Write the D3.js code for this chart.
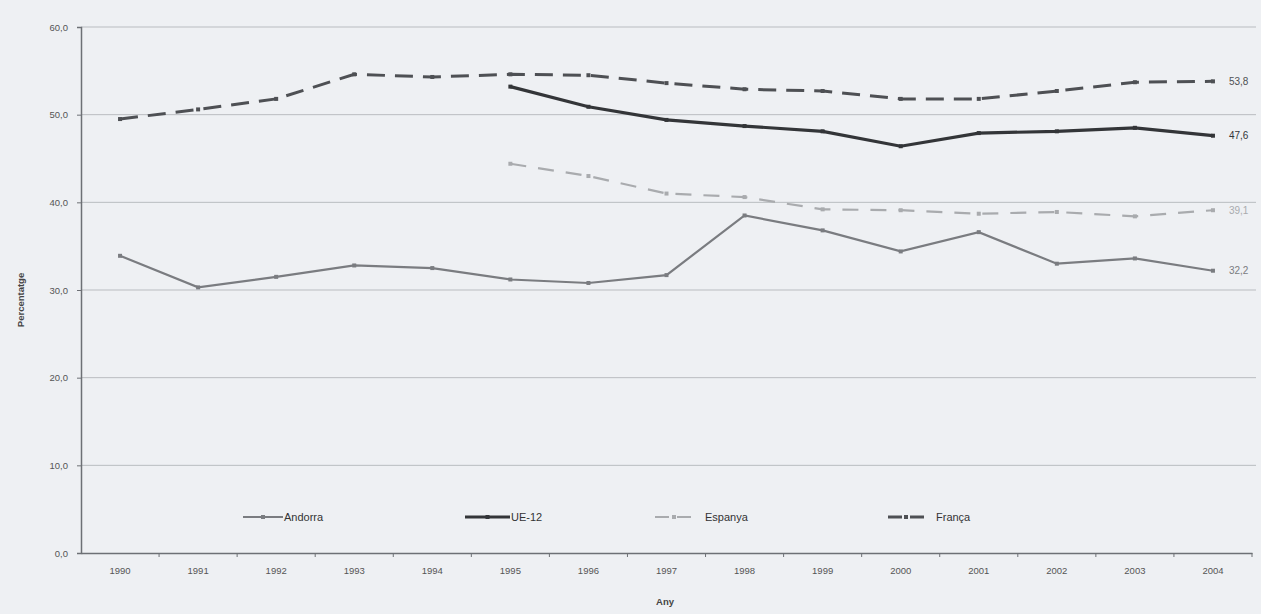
<!DOCTYPE html>
<html><head><meta charset="utf-8">
<script src="https://cdn.jsdelivr.net/npm/d3@7"></script>
<style>body{margin:0;background:#eef0f3;}svg{display:block;font-family:"Liberation Sans",Arial,sans-serif;}</style>
</head><body><svg id="c" width="1261" height="614"></svg>
<script>
const years = ["1990","1991","1992","1993","1994","1995","1996","1997","1998","1999","2000","2001","2002","2003","2004"];
const yTicks = [0,10,20,30,40,50,60];
const andorra = [33.9,30.3,31.5,32.8,32.5,31.2,30.8,31.7,38.5,36.8,34.4,36.6,33.0,33.6,32.2];
const ue12 = [null,null,null,null,null,53.2,50.9,49.4,48.7,48.1,46.4,47.9,48.1,48.5,47.6];
const espanya = [null,null,null,null,null,44.4,43.0,41.0,40.6,39.2,39.1,38.7,38.9,38.4,39.1];
const franca = [49.5,50.6,51.8,54.6,54.3,54.6,54.5,53.6,52.9,52.7,51.8,51.8,52.7,53.7,53.8];
const seriesNames = ["Andorra","UE-12","Espanya","França"];
const endLabels = ["32,2","47,6","39,1","53,8"];

const svg = d3.select("#c");
const x = d3.scaleBand().domain(years).range([81,1252]);
const y = d3.scaleLinear().domain([0,60]).range([553,27]);
const fmt = v => d3.format(".1f")(v).replace(".",",");

svg.append("g").selectAll("line").data(yTicks.filter(t=>t>0)).join("line")
  .attr("x1",81).attr("x2",1256).attr("y1",d=>y(d)).attr("y2",d=>y(d))
  .attr("stroke","#b9bcc0").attr("stroke-width",1);

const ya = svg.append("g").attr("transform","translate(81,0)")
  .call(d3.axisLeft(y).tickValues(yTicks).tickFormat(fmt).tickSize(4));
ya.select(".domain").attr("stroke","#6d7075").attr("stroke-width",1.5);
ya.selectAll(".tick line").attr("stroke","#6d7075");
ya.selectAll("text").attr("fill","#555").attr("font-size",9.5).attr("dx",-6);

const xa = svg.append("g").attr("transform","translate(0,553)")
  .call(d3.axisBottom(x).tickSize(0).tickPadding(14));
xa.select(".domain").attr("stroke","#6d7075").attr("stroke-width",1.5);
xa.selectAll("text").attr("fill","#555").attr("font-size",9.5);
xa.append("g").selectAll("line").data(years).join("line")
  .attr("x1",(d,i)=>x.range()[0]+x.step()*(i+1)).attr("x2",(d,i)=>x.range()[0]+x.step()*(i+1))
  .attr("y1",0).attr("y2",4).attr("stroke","#6d7075");

svg.append("text").attr("transform","translate(24,300) rotate(-90)").attr("text-anchor","middle")
  .attr("font-size",9.5).attr("font-weight","bold").attr("fill","#444").text("Percentatge");
svg.append("text").attr("x",665).attr("y",605).attr("text-anchor","middle")
  .attr("font-size",9.5).attr("font-weight","bold").attr("fill","#444").text("Any");

const styles = [
  {data:andorra, color:"#7a7c80", w:2.2, dash:null},
  {data:ue12, color:"#333538", w:3.2, dash:null},
  {data:espanya, color:"#a9abae", w:2.2, dash:"16,12"},
  {data:franca, color:"#4e5054", w:3, dash:"18,10"}
];
const line = d3.line().defined(d=>d.v!=null).x(d=>x(d.year)+x.bandwidth()/2).y(d=>y(d.v));
styles.forEach((s,k)=>{
  const pts = years.map((yr,i)=>({year:yr,v:s.data[i]}));
  svg.append("path").datum(pts).attr("d",line).attr("fill","none")
    .attr("stroke",s.color).attr("stroke-width",s.w).attr("stroke-dasharray",s.dash);
  svg.append("g").selectAll("rect").data(pts.filter(d=>d.v!=null)).join("rect")
    .attr("x",d=>x(d.year)+x.bandwidth()/2-2).attr("y",d=>y(d.v)-2)
    .attr("width",4).attr("height",4).attr("fill",s.color);
  const last = pts[pts.length-1];
  svg.append("text").attr("x",x(last.year)+x.bandwidth()/2+16).attr("y",y(last.v)+3.5)
    .attr("font-size",10).attr("fill",s.color).text(endLabels[k]);
});

const legX = [243,465,655,888];
const legW = [40,45,38,36];
seriesNames.forEach((n,k)=>{
  const s = styles[k];
  const g = svg.append("g");
  g.append("line").attr("x1",legX[k]).attr("x2",legX[k]+legW[k]).attr("y1",517).attr("y2",517)
    .attr("stroke",s.color).attr("stroke-width",s.w).attr("stroke-dasharray",s.dash?"14,8":null);
  g.append("rect").attr("x",legX[k]+legW[k]/2-2).attr("y",515).attr("width",4).attr("height",4).attr("fill",s.color);
  g.append("text").attr("x",legX[k]+legW[k]+(s.dash?12:1)).attr("y",521)
    .attr("font-size",11).attr("fill","#333").text(n);
});
</script></body></html>
